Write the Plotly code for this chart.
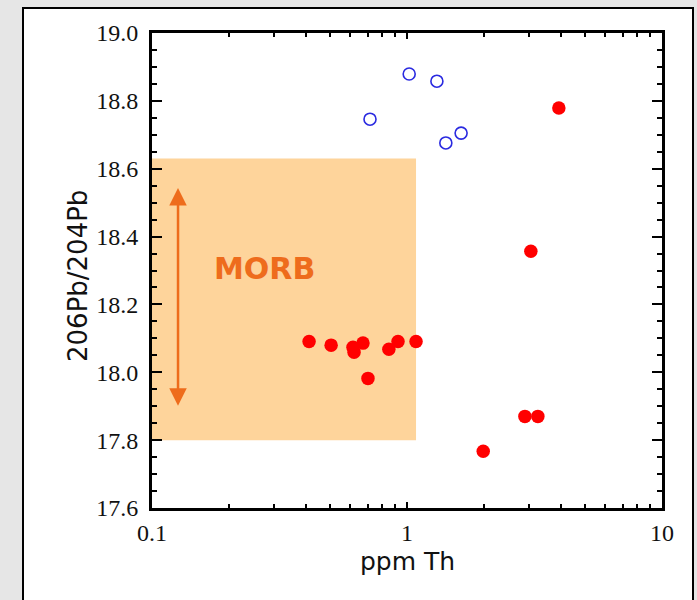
import math
import plotly.graph_objects as go

# Data
red_x = [3.94, 3.06, 2.90, 3.26, 1.99, 0.413, 0.504, 0.614, 0.620, 0.672, 0.703, 0.849, 0.922, 1.085]
red_y = [18.779, 18.357, 17.870, 17.870, 17.767, 18.091, 18.080, 18.074, 18.059, 18.086, 17.982, 18.068, 18.091, 18.091]
blue_x = [0.716, 1.02, 1.31, 1.42, 1.63]
blue_y = [18.746, 18.879, 18.858, 18.676, 18.705]
morb_x = [0.1, 1.085, 1.085, 0.1, 0.1]
morb_y = [17.8, 17.8, 18.63, 18.63, 17.8]
arrow_x = 0.1265
arrow_y = [17.897, 18.543]
morb_label = "MORB"
morb_label_pos = (0.277, 18.307)
y_ticks = [17.6, 17.8, 18.0, 18.2, 18.4, 18.6, 18.8, 19.0]
x_ticks = [0.1, 1, 10]
x_tick_text = ["0.1", "1", "10"]

ORANGE = "#ee6c1c"
tick_font = dict(family="Liberation Serif, Times New Roman, serif", size=24, color="#111111")
title_font = dict(family="DejaVu Sans, sans-serif", size=25, color="#111111")

fig = go.Figure()
fig.add_trace(go.Scatter(x=morb_x, y=morb_y, mode="lines", fill="toself",
                         fillcolor="#fed49b", line=dict(width=0, color="#fed49b"),
                         hoverinfo="skip", showlegend=False))
fig.add_trace(go.Scatter(x=red_x, y=red_y, mode="markers",
                         marker=dict(size=13.5, color="#ff0000", line=dict(width=0)),
                         showlegend=False))
fig.add_trace(go.Scatter(x=blue_x, y=blue_y, mode="markers",
                         marker=dict(size=12, symbol="circle-open", color="#2a2ae0",
                                     line=dict(width=1.6, color="#2a2ae0")),
                         showlegend=False))

L, R, T, B = 152, 35, 33, 92
W, H = 697, 600
pw, ph = W - L - R, H - T - B

def px2paper_x(px):
    return (px - L) / pw

def px2paper_y(py):
    return (H - B - py) / ph

# white panel with black border
fig.add_shape(type="rect", xref="paper", yref="paper",
              x0=px2paper_x(23), x1=px2paper_x(693), y0=px2paper_y(620), y1=px2paper_y(8),
              fillcolor="white", line=dict(color="black", width=2), layer="below")

# double arrow
fig.add_annotation(x=math.log10(arrow_x), y=arrow_y[1], ax=math.log10(arrow_x), ay=arrow_y[0],
                   xref="x", yref="y", axref="x", ayref="y", text="", showarrow=True,
                   arrowhead=2, startarrowhead=2, arrowside="end+start",
                   arrowsize=1.4, startarrowsize=1.4, arrowwidth=2.5, arrowcolor=ORANGE)
fig.add_annotation(x=math.log10(morb_label_pos[0]), y=morb_label_pos[1], xref="x", yref="y",
                   text="<b>" + morb_label + "</b>", showarrow=False,
                   font=dict(family="DejaVu Sans, sans-serif", size=30, color=ORANGE))
fig.add_annotation(x=px2paper_x(407), y=px2paper_y(578), xref="paper", yref="paper",
                   text="ppm Th", showarrow=False, font=title_font)
fig.add_annotation(x=px2paper_x(61), y=px2paper_y(276), xref="paper", yref="paper",
                   text="206Pb/204Pb", showarrow=False, textangle=-90,
                   font=dict(family="DejaVu Sans, sans-serif", size=26, color="#111111"))

axis_common = dict(showline=True, linecolor="black", linewidth=3, mirror="ticks",
                   ticks="inside", tickcolor="black", showgrid=False, zeroline=False,
                   tickfont=tick_font)
fig.update_xaxes(type="log", range=[-1, 1], tickvals=x_ticks, ticktext=x_tick_text,
                 ticklen=6, tickwidth=1.5, ticklabelstandoff=1,
                 minor=dict(ticks="inside", ticklen=4, tickwidth=1.5, tickcolor="black",
                            tickvals=[0.2, 0.3, 0.4, 0.5, 0.6, 0.7, 0.8, 0.9,
                                      2, 3, 4, 5, 6, 7, 8, 9], showgrid=False),
                 **axis_common)
fig.update_yaxes(range=[17.6, 19.0], tickvals=y_ticks, tickformat=".1f",
                 ticklen=10, tickwidth=1.5, ticklabelstandoff=6,
                 minor=dict(ticks="inside", ticklen=5, tickwidth=1.5, tickcolor="black",
                            dtick=0.05, showgrid=False),
                 **axis_common)
fig.update_layout(width=W, height=H, margin=dict(l=L, r=R, t=T, b=B),
                  paper_bgcolor="#e6e6e6", plot_bgcolor="white")
fig.write_html("out.html")
